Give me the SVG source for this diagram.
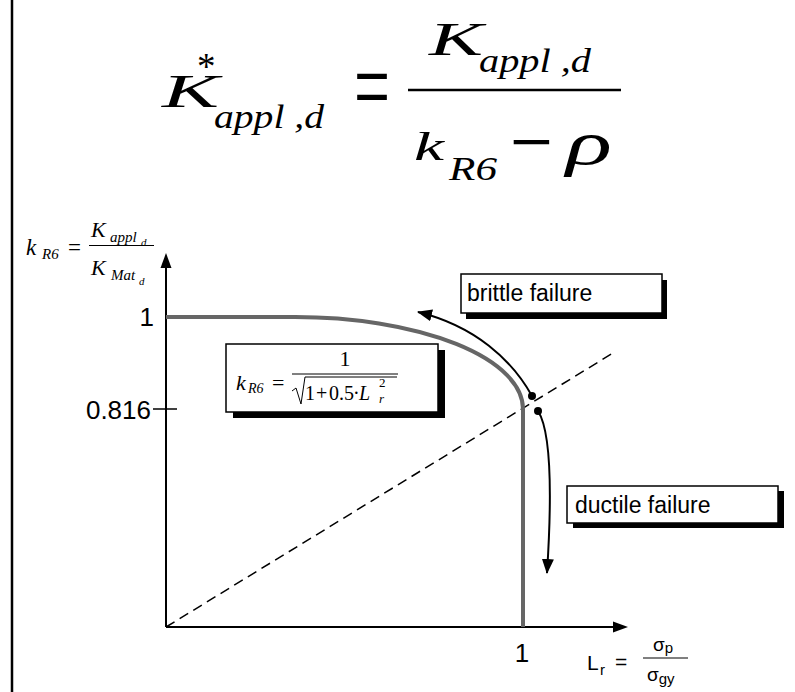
<svg xmlns="http://www.w3.org/2000/svg" width="795" height="692" viewBox="0 0 795 692">
<defs>
<style>
.serif{font-family:"Liberation Serif","Times New Roman",serif;fill:#000}
.it{font-style:italic}
.sans{font-family:"Liberation Sans",Arial,sans-serif;fill:#000}
.ax{stroke:#000;stroke-width:2;fill:none}
.box{fill:#fff;stroke:#000;stroke-width:1.5}
.shadow{fill:#000}
.conn{stroke:#000;stroke-width:2;fill:none}
</style>
<marker id="ah" markerWidth="16" markerHeight="12" refX="14" refY="6" orient="auto" markerUnits="userSpaceOnUse">
<path d="M0,0 L15,6 L0,12 Z" fill="#000"/>
</marker>
</defs>
<rect width="795" height="692" fill="#fff"/>
<line x1="12" y1="0" x2="12" y2="692" stroke="#000" stroke-width="2.5"/>

<g id="main-formula">
<text class="serif it" x="162" y="107" font-size="46" textLength="57" lengthAdjust="spacingAndGlyphs">K</text>
<text class="serif" x="197" y="79" font-size="37">*</text>
<text class="serif it" x="214" y="128" font-size="34" textLength="110" lengthAdjust="spacingAndGlyphs">appl ,d</text>
<text class="serif" transform="translate(354,122) scale(1,1.75)" x="0" y="0" font-size="60" textLength="36" lengthAdjust="spacingAndGlyphs">=</text>
<text class="serif it" x="429" y="55" font-size="46" textLength="54" lengthAdjust="spacingAndGlyphs">K</text>
<text class="serif it" x="479" y="72" font-size="34" textLength="112" lengthAdjust="spacingAndGlyphs">appl ,d</text>
<line x1="408" y1="90" x2="621" y2="90" stroke="#000" stroke-width="2.5"/>
<text class="serif it" x="414" y="160" font-size="40" textLength="30" lengthAdjust="spacingAndGlyphs">k</text>
<text class="serif it" x="449" y="180" font-size="33" textLength="48" lengthAdjust="spacingAndGlyphs">R6</text>
<text class="serif" transform="translate(510,170) scale(1,1.75)" x="0" y="0" font-size="48" textLength="43" lengthAdjust="spacingAndGlyphs">−</text>
<text class="serif it" x="566" y="164" font-size="62" textLength="46" lengthAdjust="spacingAndGlyphs">ρ</text>
</g>

<g id="y-label">
<text class="serif it" x="26" y="255" font-size="23">k</text>
<text class="serif it" x="42" y="259" font-size="15">R6</text>
<text class="serif" x="68" y="255" font-size="23">=</text>
<text class="serif it" x="91" y="237" font-size="22">K</text>
<text class="serif it" x="110" y="242" font-size="15">appl</text>
<text class="serif it" x="141" y="246" font-size="11">d</text>
<line x1="89" y1="245.5" x2="154" y2="245.5" stroke="#000" stroke-width="1"/>
<text class="serif it" x="91" y="275" font-size="22">K</text>
<text class="serif it" x="111" y="280" font-size="15">Mat</text>
<text class="serif it" x="139" y="285" font-size="11">d</text>
</g>

<g id="connectors">
<line class="ax" x1="166" y1="627" x2="166" y2="266"/>
<path d="M166,253 L160.5,268 L171.5,268 Z" fill="#000"/>
<line class="ax" x1="166" y1="627" x2="615" y2="627"/>
<path d="M628,627 L613,621.5 L613,632.5 Z" fill="#000"/>
<line x1="153" y1="409" x2="177" y2="409" stroke="#000" stroke-width="1.5"/>
<line x1="166" y1="627" x2="613" y2="353" stroke="#000" stroke-width="1.5" stroke-dasharray="10,6"/>
<path d="M166,317 H295 A228,92 0 0 1 523,409 V627" fill="none" stroke="#666" stroke-width="4"/>
<path class="conn" d="M532,396 C512,360 475,326 418,312" marker-end="url(#ah)"/>
<path class="conn" d="M538,411 C549,428 553,480 547,573" marker-end="url(#ah)"/>
<circle cx="532" cy="396" r="4" fill="#000"/>
<circle cx="538" cy="411" r="4" fill="#000"/>
</g>

<g id="axis-labels">
<text class="sans" x="154" y="326" font-size="26" text-anchor="end">1</text>
<text class="sans" x="151" y="419" font-size="26" text-anchor="end">0.816</text>
<text class="sans" x="522" y="662" font-size="26" text-anchor="middle">1</text>
<text class="sans" x="587" y="670" font-size="21">L</text>
<text class="sans" x="600" y="675" font-size="15">r</text>
<text class="sans" x="615" y="669" font-size="21">=</text>
<line x1="643" y1="658" x2="688" y2="658" stroke="#000" stroke-width="1"/>
<text class="sans" x="653" y="651" font-size="19">σ<tspan font-size="15" dy="2">p</tspan></text>
<text class="sans" x="647" y="681" font-size="19">σ<tspan font-size="15" dy="3">gy</tspan></text>
</g>

<g id="node-formula-box">
<rect class="shadow" x="233" y="350" width="212" height="68"/>
<rect class="box" x="226" y="344" width="212" height="68"/>
<text class="serif it" x="236" y="390" font-size="22">k</text>
<text class="serif it" x="248" y="393" font-size="14">R6</text>
<text class="serif" x="272" y="390" font-size="22">=</text>
<text class="serif" x="345" y="366" font-size="22" text-anchor="middle">1</text>
<line x1="292" y1="374" x2="398" y2="374" stroke="#000" stroke-width="1"/>
<path d="M292,391 L296,388 L301,404 L305,377 H397" fill="none" stroke="#000" stroke-width="1"/>
<text class="serif" x="305" y="400" font-size="20">1</text>
<text class="serif" x="316" y="400" font-size="20">+</text>
<text class="serif" x="329" y="400" font-size="20">0.5</text>
<text class="serif" x="353" y="400" font-size="20">·</text>
<text class="serif it" x="359" y="400" font-size="20">L</text>
<text class="serif" x="379" y="387" font-size="13">2</text>
<text class="serif it" x="379" y="403" font-size="13">r</text>
</g>

<g id="node-brittle">
<rect class="shadow" x="466" y="280" width="201" height="39"/>
<rect class="box" x="461" y="274" width="201" height="39"/>
<text class="sans" x="467" y="301" font-size="23">brittle failure</text>
</g>

<g id="node-ductile">
<rect class="shadow" x="573" y="491" width="211" height="37"/>
<rect class="box" x="567" y="486" width="211" height="37"/>
<text class="sans" x="575" y="513" font-size="23">ductile failure</text>
</g>
</svg>
